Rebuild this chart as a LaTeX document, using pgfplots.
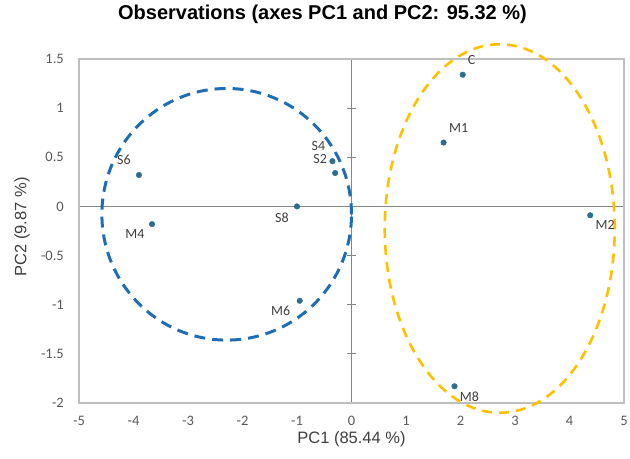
\documentclass[border=0pt]{standalone}
\usepackage{pgfplots}
\usepackage{pgfplotstable}
\pgfplotsset{compat=1.18}
\usepackage{fontspec}
\setmainfont{Liberation Sans}
\newfontfamily\calibri{Carlito}
\definecolor{tickgray}{HTML}{595959}
\definecolor{labgray}{HTML}{404040}
\definecolor{boxgray}{HTML}{BFBFBF}
\definecolor{zerogray}{HTML}{868686}
\definecolor{ptcol}{HTML}{2E6D8E}
\definecolor{ellblue}{HTML}{1F6EB5}
\definecolor{ellgold}{HTML}{FFC000}

\pgfplotstableread{
x y label dx dy
-3.90 0.32 S6 -15 15
-3.66 -0.18 M4 -17 -10
-1.00 0.00 S8 -15 -11
-0.35 0.46 S4 -14 15
-0.30 0.34 S2 -15 14
2.04 1.34 C 9 15
1.69 0.65 M1 15 15
4.38 -0.09 M2 15 -10
-0.95 -0.96 M6 -19 -10
1.89 -1.83 M8 15 -10
}\obs

\begin{document}
\begin{tikzpicture}
% zero lines with cross ticks
\begin{axis}[
  scale only axis, width=545pt, height=344pt,
  xmin=-5, xmax=5, ymin=-2, ymax=1.5,
  axis lines=center,
  axis line style={zerogray, line width=0.8pt, -},
  xtick=\empty,
  ytick={-2,-1.5,-1,-0.5,0,0.5,1,1.5},
  yticklabels={},
  major tick length=9pt, tick align=center,
  tick style={zerogray, line width=0.8pt},
]
\end{axis}
\begin{axis}[
  scale only axis, width=545pt, height=344pt,
  xmin=-5, xmax=5, ymin=-2, ymax=1.5,
  xtick={-5,-4,-3,-2,-1,0,1,2,3,4,5},
  ytick={-2,-1.5,-1,-0.5,0,0.5,1,1.5},
  axis line style={boxgray, line width=1.5pt},
  major tick length=0pt,
  clip=false,
  /pgf/number format/assume math mode=true,
  ticklabel style={font=\calibri\fontsize{14.5}{16}\selectfont, text=tickgray, inner sep=0pt},
  xticklabel style={anchor=center, yshift=-18pt},
  yticklabel style={anchor=east, xshift=-15pt},
  title={Observations (axes PC1 and PC2: 95.32 \%)},
  title style={at={(axis description cs:0.4468,1.113)}, anchor=center, font=\fontsize{20}{23}\selectfont\bfseries},
  xlabel={PC1 (85.44 \%)},
  xlabel style={at={(axis description cs:0.5,-0.1047)}, anchor=center, font=\fontsize{16.5}{18}\selectfont, text=labgray},
  ylabel={PC2 (9.87 \%)},
  ylabel style={at={(axis description cs:-0.1046,0.512)}, anchor=center, font=\fontsize{16.5}{18}\selectfont, text=labgray},
]
\coordinate (bl) at (rel axis cs:0,0);
\coordinate (tr) at (rel axis cs:1,1);
\draw[ellblue, line width=3pt, dash pattern=on 11pt off 7pt] (axis cs:-2.29,-0.08) ellipse [x radius=2.29, y radius=1.28];
\draw[ellgold, line width=2.6pt, dash pattern=on 10pt off 7pt] (axis cs:2.72,-0.225) ellipse [x radius=2.11, y radius=1.875];
\addplot[only marks, mark=*, mark size=2.8pt, mark options={fill=ptcol, draw=ptcol},
  point meta=explicit symbolic, nodes near coords,
  visualization depends on={\thisrow{dx}\as\dx},
  visualization depends on={\thisrow{dy}\as\dy},
  every node near coord/.append style={anchor=center, xshift=\dx pt, yshift=\dy pt,
    font=\calibri\fontsize{14}{16}\selectfont, text=labgray, inner sep=0pt}]
  table[x=x, y=y, meta=label]{\obs};
\end{axis}
\pgfresetboundingbox
\path ([shift={(-79pt,-56pt)}]bl) rectangle ([shift={(6pt,59pt)}]tr);
\end{tikzpicture}
\end{document}
